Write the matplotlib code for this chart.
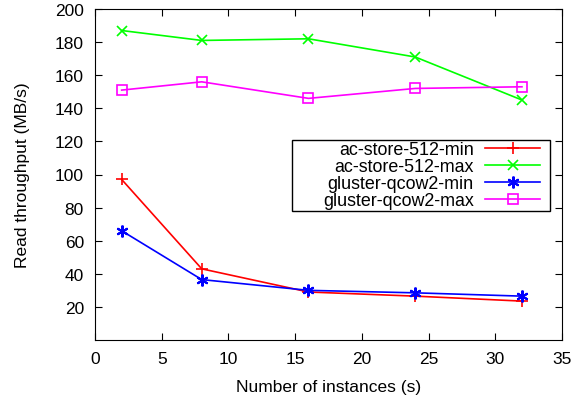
import matplotlib
matplotlib.use("Agg")
import matplotlib.pyplot as plt
from matplotlib.patches import Rectangle

plt.rcParams['font.family'] = ['Liberation Sans', 'DejaVu Sans']

instances = [2, 8, 16, 24, 32]
ac_min = [97, 43, 29, 26.5, 23.5]
ac_max = [187, 181, 182, 171, 145]
gl_min = [66, 36.5, 30, 28.5, 26.5]
gl_max = [151, 156, 146, 152, 153]

fs = 12.5
fig = plt.figure(figsize=(5.82, 4.02), dpi=100)
ax = fig.add_axes([95 / 582, 1 - 341 / 402, 467 / 582, 331 / 402])

lw = 1.2
ax.plot(instances, ac_min, color='#ff0000', marker='+', ms=9, mew=1.2, lw=lw, label='ac-store-512-min')
ax.plot(instances, ac_max, color='#00ff00', marker='x', ms=7.5, mew=1.2, lw=lw, label='ac-store-512-max')
ax.plot(instances, gl_min, color='#0000ff', marker=(6, 2, 0), ms=8.5, mew=1.5, lw=lw, label='gluster-qcow2-min')
ax.plot(instances, gl_max, color='#ff00ff', marker='s', ms=7.5, mew=1.2, mfc='none', lw=lw, label='gluster-qcow2-max')

ax.set_xlim(0, 35)
ax.set_ylim(0, 200)
ax.set_xticks(range(0, 36, 5))
ax.set_yticks(range(20, 201, 20))
ax.tick_params(direction='in', top=True, right=True, labelsize=fs, length=5)
ax.tick_params(axis='y', pad=8)
ax.tick_params(axis='x', pad=8)
ax.set_xlabel('Number of instances (s)', fontsize=fs, labelpad=9)
ax.set_ylabel('Read throughput (MB/s)', fontsize=fs, labelpad=18)

# gnuplot-style key: right-aligned labels, samples on the right, roomy box
leg = ax.legend(loc='upper right', bbox_to_anchor=(0.953, 0.601), markerfirst=False,
                fontsize=12.9, frameon=False, borderpad=0, labelspacing=0.0,
                handlelength=3.05, handletextpad=0.65, borderaxespad=0)
ax.add_patch(Rectangle((0.4218, 0.3897), 0.5525, 0.2145, transform=ax.transAxes,
                       fill=False, ec='black', lw=1.0, zorder=4))

fig.savefig('out.png', dpi=100)
